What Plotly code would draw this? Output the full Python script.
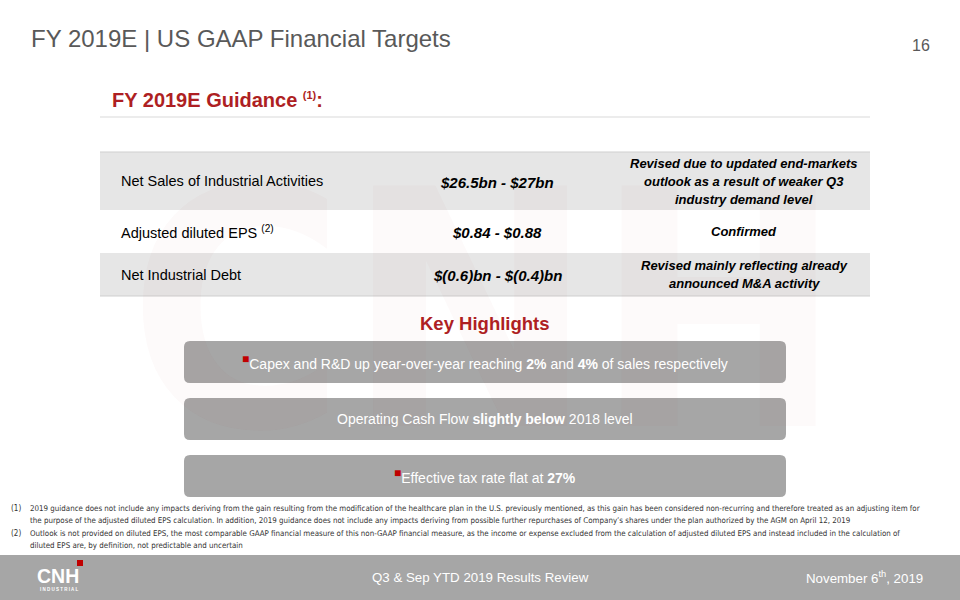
import plotly.graph_objects as go

# slide texts
title = "FY 2019E | US GAAP Financial Targets"
page_number = "16"
guidance_title = "FY 2019E Guidance"
guidance_note = "(1)"
highlights_title = "Key Highlights"

# guidance table
metrics = ["Net Sales of Industrial Activities", "Adjusted diluted EPS <sup>(2)</sup>", "Net Industrial Debt"]
ranges = ["$26.5bn - $27bn", "$0.84 - $0.88", "$(0.6)bn - $(0.4)bn"]
comments = [
    ["Revised due to updated end-markets", "outlook as a result of weaker Q3", "industry demand level"],
    ["Confirmed"],
    ["Revised mainly reflecting already", "announced M&A activity"],
]

# key highlights
highlights = [
    "Capex and R&D up year-over-year reaching <b>2%</b> and <b>4%</b> of sales respectively",
    "Operating Cash Flow <b>slightly below</b> 2018 level",
    "Effective tax rate flat at <b>27%</b>",
]
highlight_bullets = [True, False, True]

# footnotes
footnote_labels = ["(1)", "(2)"]
footnote_lines = [
    [
        "2019 guidance does not include any impacts deriving from the gain resulting from the modification of the healthcare plan in the U.S. previously mentioned, as this gain has been considered non-recurring and therefore treated as an adjusting item for",
        "the purpose of the adjusted diluted EPS calculation. In addition, 2019 guidance does not include any impacts deriving from possible further repurchases of Company\u2019s shares under the plan authorized by the AGM on April 12, 2019",
    ],
    [
        "Outlook is not provided on diluted EPS, the most comparable GAAP financial measure of this non-GAAP financial measure, as the income or expense excluded from the calculation of adjusted diluted EPS and instead included in the calculation of",
        "diluted EPS are, by definition, not predictable and uncertain",
    ],
]
footer_center = "Q3 & Sep YTD 2019 Results Review"
footer_date = "November 6<sup>th</sup>, 2019"

RED = "#AE1F23"
GREY_TEXT = "#595959"
BOX_GREY = "#A6A6A6"
ROW_GREY = "#E6E6E6"
FONT = "Arial, Liberation Sans, sans-serif"
NARROW = "Liberation Sans Narrow, Arial Narrow, DejaVu Sans Condensed, Arial, sans-serif"


def rounded_rect(x0, y0, x1, y1, r):
    return (f"M{x0 + r},{y0} L{x1 - r},{y0} Q{x1},{y0} {x1},{y0 + r} "
            f"L{x1},{y1 - r} Q{x1},{y1} {x1 - r},{y1} L{x0 + r},{y1} "
            f"Q{x0},{y1} {x0},{y1 - r} L{x0},{y0 + r} Q{x0},{y0} {x0 + r},{y0} Z")


fig = go.Figure()
shapes = []
annotations = []


def text(x, y, s, size, color="#000000", anchor="left", family=FONT):
    annotations.append(dict(
        x=x, y=y, xref="x", yref="y", text=s, showarrow=False,
        xanchor=anchor, yanchor="middle", align=anchor,
        font=dict(size=size, color=color, family=family),
    ))


# faint watermark
text(485, 312, "<b>CNH</b>", 330, "rgba(190,40,40,0.022)", "center", NARROW)

# title area
text(29, 38, title, 24, GREY_TEXT)
text(932, 45, page_number, 16, GREY_TEXT, "right")
text(110, 100, f"<b>{guidance_title} <sup><span style='font-size:11px'>{guidance_note}</span></sup>:</b>", 20, RED)
shapes.append(dict(type="line", x0=100, x1=870, y0=117, y1=117, line=dict(color="#D9D9D9", width=1)))

# table rows
row_edges = [152, 210, 253, 296]
for i, (m, rg, c) in enumerate(zip(metrics, ranges, comments)):
    top, bot = row_edges[i], row_edges[i + 1]
    if i % 2 == 0:
        shapes.append(dict(type="rect", x0=100, x1=870, y0=top, y1=bot,
                           fillcolor=ROW_GREY, line=dict(width=0), layer="below"))
    mid = (top + bot) / 2
    text(119, mid, m, 14.5, "#000000")
    text(497, mid + 1, f"<b><i>{rg}</i></b>", 15, "#000000", "center")
    first = mid - 9 * (len(c) - 1)
    for j, ln in enumerate(c):
        text(744, first + 18 * j, f"<b><i>{ln}</i></b>", 13, "#000000", "center")
for y in (row_edges[0], row_edges[-1]):
    shapes.append(dict(type="line", x0=100, x1=870, y0=y, y1=y, line=dict(color="#CFCFCF", width=1)))

# key highlights
text(485, 323, f"<b>{highlights_title}</b>", 18.5, RED, "center")
box_tops = [341, 398, 455]
for top, h, bullet in zip(box_tops, highlights, highlight_bullets):
    shapes.append(dict(type="path", path=rounded_rect(184, top, 786, top + 42, 6),
                       fillcolor=BOX_GREY, line=dict(width=0)))
    s = h
    if bullet:
        s = f"<sup><span style='color:#C00000;font-size:12px'>\u25A0</span></sup>{h}"
    text(485, top + 21, s, 14, "#FFFFFF", "center")

# footnotes
fy = [508, 520.5, 533, 545.5]
k = 0
for lab, lines in zip(footnote_labels, footnote_lines):
    text(9, fy[k], lab, 8, "#333333", family=NARROW)
    for ln in lines:
        text(28, fy[k], ln, 7.9, "#333333", family=NARROW)
        k += 1

# footer band
shapes.append(dict(type="rect", x0=0, x1=960, y0=555, y1=600, fillcolor=BOX_GREY, line=dict(width=0)))
shapes.append(dict(type="rect", x0=77, x1=83, y0=560, y1=566, fillcolor="#C00000", line=dict(width=0)))
text(58, 575.5, "<b>CNH</b>", 19.5, "#FFFFFF", "center")
text(58.5, 589, "<b>I N D U S T R I A L</b>", 4.5, "#FFFFFF", "center")
text(480, 577, footer_center, 13.3, "#FFFFFF", "center")
text(925, 577, footer_date, 13.3, "#FFFFFF", "right")

fig.update_layout(
    width=960, height=600,
    margin=dict(l=0, r=0, t=0, b=0),
    paper_bgcolor="#FFFFFF", plot_bgcolor="#FFFFFF",
    xaxis=dict(range=[0, 960], visible=False, fixedrange=True),
    yaxis=dict(range=[600, 0], visible=False, fixedrange=True),
    shapes=shapes, annotations=annotations, showlegend=False,
)

fig.write_html("out.html", config={"displayModeBar": False},
               post_script="document.body.style.margin='0';document.body.style.overflow='hidden';")
